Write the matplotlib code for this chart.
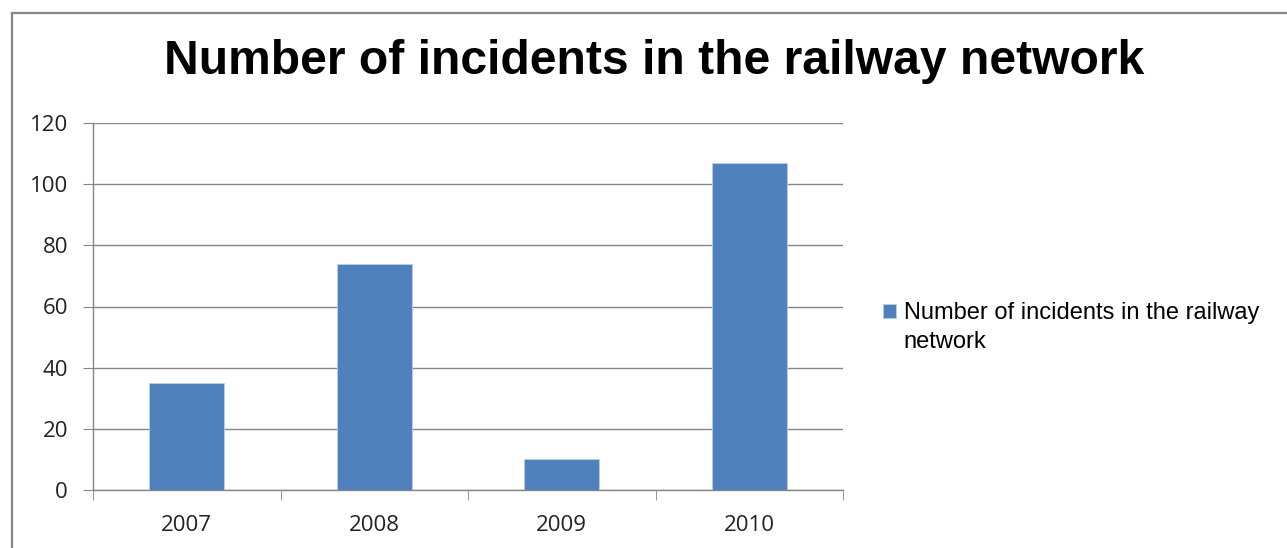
import matplotlib
matplotlib.use("Agg")
import matplotlib.pyplot as plt
from matplotlib.lines import Line2D
from matplotlib.patches import Patch
import numpy as np

years = ["2007", "2008", "2009", "2010"]
incidents = [35, 74, 10, 107]
series_name = "Number of incidents in the railway network"
legend_lines = ["Number of incidents in the railway", "network"]

W, H = 1287, 548
fig = plt.figure(figsize=(W / 100, H / 100), dpi=100)

# frame of the chart object (only left and top edges are visible)
fx, fy = 12 / W, 1 - 13 / H
fig.add_artist(Line2D([fx, fx], [0, fy], transform=fig.transFigure, color="#868686", lw=1.6))
fig.add_artist(Line2D([fx, 1], [fy, fy], transform=fig.transFigure, color="#868686", lw=1.6))

ax = fig.add_axes([93 / W, 58 / H, 750 / W, 367 / H])
x = np.arange(len(years))
ax.bar(x, incidents, width=0.4, color="#4F81BD", edgecolor="#b9cde5", linewidth=0.6, zorder=3)

ax.set_xlim(-0.5, 3.5)
ax.set_ylim(0, 120)
ax.set_yticks(range(0, 121, 20))
ax.yaxis.grid(True, color="#868686", lw=1.0, zorder=0)

ax.set_xticks(x)
ax.set_xticklabels(years)
ax.set_xticks(np.arange(-0.5, 4, 1), minor=True)
ax.tick_params(axis="x", which="major", length=0, pad=18)
ax.tick_params(axis="x", which="minor", length=7, color="#868686", direction="out")
ax.tick_params(axis="y", length=7, color="#868686", pad=11)
for lab in ax.get_xticklabels() + ax.get_yticklabels():
    lab.set_fontfamily("Open Sans")
    lab.set_fontsize(16)
    lab.set_color("#222222")

for s in ["top", "right"]:
    ax.spines[s].set_visible(False)
for s in ["left", "bottom"]:
    ax.spines[s].set_color("#868686")
    ax.spines[s].set_linewidth(1.0)

fig.text(654 / W, 1 - 62 / H, series_name, ha="center", va="center",
         fontsize=34.6, fontweight="bold", family="Liberation Sans")

leg = fig.legend(handles=[Patch(facecolor="#4F81BD", edgecolor="#b9cde5", lw=0.6)],
                 labels=[legend_lines[0]],
                 loc="upper left", bbox_to_anchor=(874 / W, 1 - 293 / H),
                 frameon=False, handlelength=0.55, handleheight=0.55, handletextpad=0.3,
                 borderaxespad=0, prop={"family": "Liberation Sans", "size": 17})

# wrapped second line of the legend label, under the first line
fig.canvas.draw()
bb = leg.get_texts()[0].get_window_extent()
fig.text(bb.x0 / W, (bb.y0 - 29) / H, legend_lines[1], ha="left", va="bottom",
         family="Liberation Sans", fontsize=17)

fig.savefig("out.png", dpi=100, facecolor="white")
